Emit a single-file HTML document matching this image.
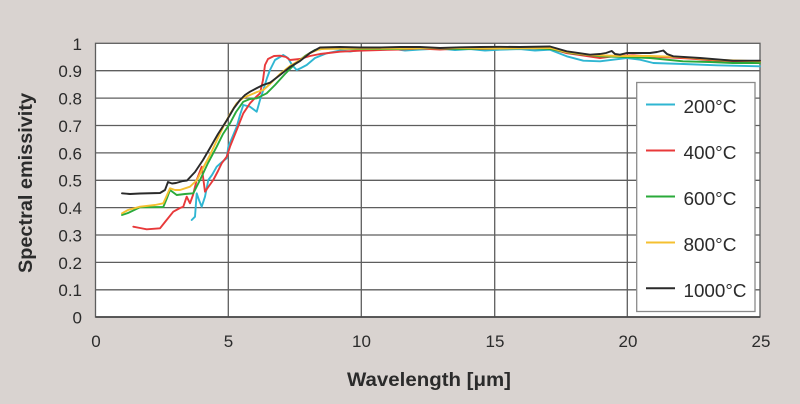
<!DOCTYPE html>
<html>
<head>
<meta charset="utf-8">
<style>
html,body{margin:0;padding:0;background:#d9d3d0;}
svg{display:block;}
text{font-family:"Liberation Sans",sans-serif;fill:#2b2b2b;}
</style>
</head>
<body>
<svg width="800" height="404" viewBox="0 0 800 404" xmlns="http://www.w3.org/2000/svg">
<rect x="0" y="0" width="800" height="404" fill="#d9d3d0"/>
<rect x="95.5" y="43.3" width="664.5" height="273.7" fill="#ffffff"/>
<g stroke="#5e5e5e" stroke-width="1.3" fill="none">
<line x1="95.5" y1="70.7" x2="760" y2="70.7"/>
<line x1="95.5" y1="98.1" x2="760" y2="98.1"/>
<line x1="95.5" y1="125.5" x2="760" y2="125.5"/>
<line x1="95.5" y1="152.9" x2="760" y2="152.9"/>
<line x1="95.5" y1="180.3" x2="760" y2="180.3"/>
<line x1="95.5" y1="207.6" x2="760" y2="207.6"/>
<line x1="95.5" y1="235" x2="760" y2="235"/>
<line x1="95.5" y1="262.4" x2="760" y2="262.4"/>
<line x1="95.5" y1="289.8" x2="760" y2="289.8"/>
<line x1="228.3" y1="43.3" x2="228.3" y2="317"/>
<line x1="361.3" y1="43.3" x2="361.3" y2="317"/>
<line x1="494.7" y1="43.3" x2="494.7" y2="317"/>
<line x1="627.3" y1="43.3" x2="627.3" y2="317"/>
<rect x="95.5" y="43.3" width="664.5" height="273.7"/>
</g>
<line x1="95.5" y1="317" x2="760" y2="317" stroke="#4a4a4a" stroke-width="1.8"/>

<g fill="none" stroke-width="1.9" stroke-linejoin="round" stroke-linecap="round">
<polyline stroke="#2fb6d2" points="191.7,220 195,216.7 196.7,193.3 199,200 201.7,206.7 205,196.7 208.3,180 212,175 216.7,166.7 222,162 226.7,158.3 228.3,146.7 232,138 236.7,126.7 240,115 243.3,105 250,106.7 256.7,111.7 260,100 263.3,90 267,78 270,70 275,60 283.3,55 288,58 292,65 296.7,70 301,68 306.7,65 315,58 326.7,53.3 340,50.5 350,51.5 360,50 380,50 395,49 405,50.5 420,49.5 440,48.5 455,50 470,49 485,50.5 500,49.7 520,49 535,50.5 550,49.7 566.7,56.3 583.3,60.7 600,61.3 626.7,58 640,59.7 653.3,63 683.3,64 716.7,65.3 760,66.3"/>
<polyline stroke="#e8393a" points="133.3,226.7 140,228 146.7,229.3 160,228.3 165,222 173.3,211.7 180,208 183.3,206.7 186.7,196.7 190,203.3 193,195 196.7,180 201.7,166.7 205,191.7 209,186 213.3,180 218,171 221.7,163.3 226.7,156.7 230,146.7 236.7,130 243.3,113.3 250,103.3 255,98 260,93.3 263,80 265,65 268,59 274,56 280,55.7 286,57 290,60 300,59 310,56 320,54 340,51.7 360,50.7 380,50 400,49.5 420,48.5 440,49.5 460,48.5 480,49 500,48.5 520,48 550,48.5 566,53 580,55 600,58 615,56 633,55.3 650,56.5 666.7,57.3 690,58.5 716.7,60.7 740,61.5 760,62"/>
<polyline stroke="#2aaa3a" points="122,215 128,213 140,207.3 163.3,207 167,198 170,190 176.7,195 185,194 193.3,193.3 200,180 208,163 216.7,146.7 223,134 230,123.3 236,112 243.3,101.7 250,99 256.7,98.3 266.7,93.3 275,85 285,74 295,64 305,56 315,50 325,48.5 360,49 400,49 430,48 460,49 500,48.5 530,48 550,49 570,53 600,56.3 625,57 650,58 683,61.3 710,62 733,63 760,63"/>
<polyline stroke="#f5c030" points="122,213.3 128,210 140,206.7 155,205 163.3,203.3 167,195 170,188.3 175,190 180,190 190,186.7 197,180 203,168 210,155 217,140 223.3,126.7 230,114 236.7,103.3 243,98 250,95 257,92 263.3,90 270,84 280,74 290,66 300,60 310,53 320,49 340,48.5 400,48.5 450,48 500,48.5 550,48 566,52 590,55 620,56 650,56 680,57 720,60 760,61.3"/>
<polyline stroke="#2a2a2a" points="122,193.3 130,194 140,193.5 160,193 165,190 168,182 172,183.5 176,183 183,181 187,180.5 195,172 203,160 210,148 218,134 227,120 234,108 240,100 245,95 250,91.7 257,88 263,85 270,82.7 280,75 290,67 300,61 310,53 320,47.5 340,47 360,47.5 380,47.5 400,47 420,47 440,48 460,47.3 480,47 500,46.8 520,47 550,46.5 566.7,51.3 590,54.7 600,54 606,53 611.7,51 615,54 620,54.7 626.7,53 650,53 657,52 663.3,50.5 667,54 673.3,56.3 700,58 733,60.7 760,60.7"/>
</g>

<rect x="636.7" y="82.5" width="118.3" height="229" fill="#ffffff" stroke="#8a8a8a" stroke-width="1.3"/>
<g stroke-width="2">
<line x1="646" y1="104.5" x2="675" y2="104.5" stroke="#2fb6d2"/>
<line x1="646" y1="150.5" x2="675" y2="150.5" stroke="#e8393a"/>
<line x1="646" y1="196.5" x2="675" y2="196.5" stroke="#2aaa3a"/>
<line x1="646" y1="242.5" x2="675" y2="242.5" stroke="#f5c030"/>
<line x1="646" y1="288.3" x2="675" y2="288.3" stroke="#2a2a2a"/>
</g>
<g font-size="18">
<text x="683.5" y="113" textLength="53" lengthAdjust="spacingAndGlyphs">200°C</text>
<text x="683.5" y="159" textLength="53" lengthAdjust="spacingAndGlyphs">400°C</text>
<text x="683.5" y="205" textLength="53" lengthAdjust="spacingAndGlyphs">600°C</text>
<text x="683.5" y="251" textLength="53" lengthAdjust="spacingAndGlyphs">800°C</text>
<text x="683.5" y="297" textLength="63" lengthAdjust="spacingAndGlyphs">1000°C</text>
</g>

<g font-size="17" text-anchor="end">
<text x="82" y="50">1</text>
<text x="82" y="77">0.9</text>
<text x="82" y="104.5">0.8</text>
<text x="82" y="132">0.7</text>
<text x="82" y="159.3">0.6</text>
<text x="82" y="186.7">0.5</text>
<text x="82" y="214">0.4</text>
<text x="82" y="241.4">0.3</text>
<text x="82" y="268.8">0.2</text>
<text x="82" y="296.2">0.1</text>
<text x="82" y="323.5">0</text>
</g>
<g font-size="17" text-anchor="middle">
<text x="96" y="347">0</text>
<text x="228.5" y="347">5</text>
<text x="361.5" y="347">10</text>
<text x="495" y="347">15</text>
<text x="628" y="347">20</text>
<text x="761" y="347">25</text>
</g>
<text x="347" y="386" font-size="19" font-weight="bold" textLength="164" lengthAdjust="spacingAndGlyphs">Wavelength [μm]</text>
<text transform="translate(32,273) rotate(-90)" x="0" y="0" font-size="19" font-weight="bold" textLength="180" lengthAdjust="spacingAndGlyphs">Spectral emissivity</text>
</svg>
</body>
</html>
